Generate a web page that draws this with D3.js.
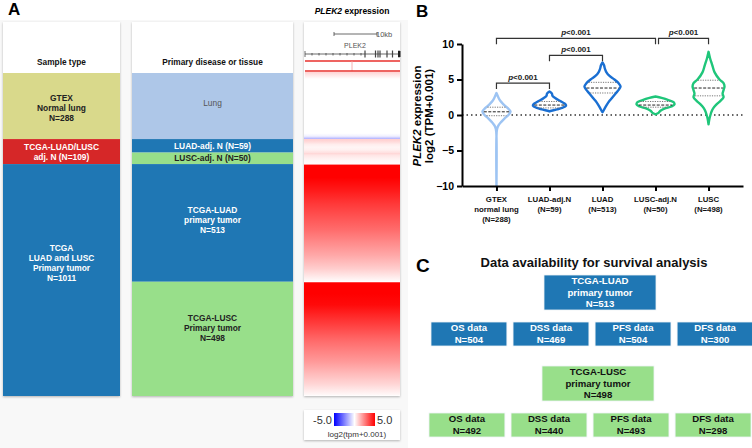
<!DOCTYPE html>
<html><head><meta charset="utf-8">
<script src="https://cdn.jsdelivr.net/npm/d3@7"></script>
<style>body{margin:0;background:#fff} svg{display:block;font-family:'Liberation Sans',Arial,Helvetica,sans-serif}</style>
</head><body><script>
// ---------------- DATA ----------------
// Panel A
const sampleTypeLabels = [["GTEX","Normal lung","N=288"],["TCGA-LUAD/LUSC","adj. N (N=109)"],["TCGA","LUAD and LUSC","Primary tumor","N=1011"]];
const sampleTypeN = [288,109,1011];
const sampleTypeColors = ["#d9d98b","#d62728","#1f77b4"];
const sampleTypeText = ["#222","#fff","#fff"];
const diseaseLabels = [["Lung"],["LUAD-adj. N (N=59)"],["LUSC-adj. N (N=50)"],["TCGA-LUAD","primary tumor","N=513"],["TCGA-LUSC","Primary tumor","N=498"]];
const diseaseN = [288,59,50,513,498];
const diseaseColors = ["#aec7e8","#1f77b4","#98df8a","#1f77b4","#98df8a"];
const diseaseText = ["#555","#fff","#222","#fff","#222"];
// heatmap values (log2 tpm, sorted within each group, top to bottom)
const heatGTEX = [0.1,0.05,0,0,0,0,0,0,0,0,0,0,0,0,0,0,0,0,0,0,0,0,-0.3,-1.6];
const heatLUADadj = [1.0,0.7,0.35,0.2,0.3,0.6];
const heatLUSCadj = [0.9,0.5,0.3,0.15,0.1];
const heatLUAD = [6,5.2,4.5,3.9,3.4,2.9,2.3,1.7,1.0,0.1];
const heatLUSC = [6.5,5.5,4.8,4.2,3.6,3.0,2.5,2.0,1.4,0.8,0.1];
const geneIntronMarks = [312,319,326,333,340,347,354,361];
const geneExons = [365,375.5,378,380,387,392.5,399];

// Panel B
const groups = ["GTEX","LUAD-adj.N","LUAD","LUSC-adj.N","LUSC"];
const groupLabels = [["GTEX","normal lung","(N=288)"],["LUAD-adj.N","(N=59)"],["LUAD","(N=513)"],["LUSC-adj.N","(N=50)"],["LUSC","(N=498)"]];
const violinColors = ["#9dc4f3","#1a6fd2","#1a6fd2","#1fc67a","#1fc67a"];
const densGTEX = [[3.1,0],[2.6,0.08],[2.0,0.2],[1.5,0.37],[1.0,0.58],[0.5,0.74],[0.0,0.63],[-0.5,0.42],[-1.0,0.24],[-1.5,0.1],[-2.0,0.03],[-3,0],[-10,0]];
const densLUADadj = [[3.3,0],[3.0,0.13],[2.7,0.16],[2.4,0.3],[2.1,0.47],[1.8,0.68],[1.5,0.85],[1.3,0.87],[1.0,0.66],[0.8,0.4],[0.6,0.1],[0.5,0]];
const densLUAD = [[7.4,0],[7.0,0.08],[6.5,0.13],[6.0,0.21],[5.5,0.37],[5.0,0.63],[4.5,0.84],[4.0,0.95],[3.5,0.84],[3.0,0.68],[2.5,0.53],[2.0,0.37],[1.5,0.24],[1.0,0.13],[0.5,0.03],[0.4,0]];
const densLUSCadj = [[2.6,0],[2.4,0.32],[2.1,0.68],[1.8,0.95],[1.5,1.0],[1.2,0.84],[0.9,0.47],[0.6,0.26],[0.3,0.16],[0.1,0]];
const densLUSC = [[8.9,0],[8.0,0.08],[7.0,0.2],[6.0,0.32],[5.0,0.58],[4.5,0.79],[4.0,0.84],[3.5,0.79],[3.0,0.74],[2.5,0.79],[2.0,0.63],[1.5,0.42],[1.0,0.26],[0.5,0.16],[0,0.1],[-0.5,0.05],[-1.3,0]];
const medians = [0.45,1.4,3.8,1.4,3.8];
const q1s = [-0.1,1.0,3.1,1.1,2.7];
const q3s = [1.1,1.9,4.6,1.9,4.9];
const yTicks = [-10,-5,0,5,10];
const comparisons = [["GTEX","LUAD-adj.N",4.5],["LUAD-adj.N","LUAD",8.4],["GTEX","LUSC-adj.N",10.8],["LUSC-adj.N","LUSC",10.8]];
const pLabel = "<0.001";

// Panel C
const survivalTypes = ["OS data","DSS data","PFS data","DFS data"];
const luadSurvN = [504,469,504,300];
const luscSurvN = [492,440,493,298];
const cohortLabels = [["TCGA-LUAD","primary tumor","N=513"],["TCGA-LUSC","primary tumor","N=498"]];

// ---------------- DRAW ----------------
const svg = d3.select("body").append("svg").attr("width",752).attr("height",448);
const defs = svg.append("defs");
const sh = defs.append("filter").attr("id","sh").attr("x","-10%").attr("y","-10%").attr("width","120%").attr("height","120%");
sh.append("feDropShadow").attr("dx",0).attr("dy",1).attr("stdDeviation",1.2).attr("flood-color","#000").attr("flood-opacity",0.28);

function mtext(g, lines, x, yc, lh, size, color, weight){
  const t = g.append("text").attr("x",x).attr("text-anchor","middle").attr("font-size",size)
    .attr("font-weight",weight||"bold").attr("fill",color);
  const n = lines.length;
  lines.forEach((l,i)=>{
    t.append("tspan").attr("x",x).attr("y", yc + (i-(n-1)/2)*lh + size*0.35).text(l);
  });
  return t;
}

// ---- Panel A ----
svg.append("rect").attr("x",0).attr("y",20).attr("width",408).attr("height",428).attr("fill","#f8f8f8");
svg.append("text").attr("x",8).attr("y",15).attr("font-size",17).attr("font-weight","bold").text("A");
const total = d3.sum(sampleTypeN);
const yA = d3.scaleLinear().domain([0,total]).range([73,396]);
const cols = [{x:3,w:117},{x:132,w:161},{x:304,w:96}];
cols.forEach(c=>{
  svg.append("rect").attr("x",c.x).attr("y",22).attr("width",c.w).attr("height",374).attr("fill","#fff").attr("filter","url(#sh)");
});
mtext(svg,["Sample type"],cols[0].x+cols[0].w/2,62,10,8.3,"#111");
mtext(svg,["Primary disease or tissue"],cols[1].x+cols[1].w/2,62,10,8.3,"#111");

// label vertical shifts (layout), relative to the segment centre
const labelShiftCol1 = [2,0,-17];
const labelShiftCol2 = [-3,0,0,-3,-11];
function drawSegments(ns, colors, labels, textColors, col, weightFn, shifts){
  let cum = 0;
  ns.forEach((n,i)=>{
    const y0 = yA(cum), y1 = yA(cum+n);
    svg.append("rect").attr("x",col.x).attr("y",y0).attr("width",col.w).attr("height",y1-y0).attr("fill",colors[i]);
    mtext(svg, labels[i], col.x+col.w/2, (y0+y1)/2 + shifts[i], 10, 8.4, textColors[i], weightFn(i));
    cum += n;
  });
}
drawSegments(sampleTypeN, sampleTypeColors, sampleTypeLabels, sampleTypeText, cols[0], ()=> "bold", labelShiftCol1);
drawSegments(diseaseN, diseaseColors, diseaseLabels, diseaseText, cols[1], i=> i===0?"normal":"bold", labelShiftCol2);

// heatmap column
const heatColor = d3.scaleLinear().domain([-5,0,5]).range(["#0000ff","#ffffff","#ff0000"]).clamp(true);
const heatSets = [heatGTEX, heatLUADadj, heatLUSCadj, heatLUAD, heatLUSC];
{
  let cum = 0;
  heatSets.forEach((vals,i)=>{
    const y0 = yA(cum), y1 = yA(cum+diseaseN[i]);
    const gid = "hg"+i;
    const gr = defs.append("linearGradient").attr("id",gid).attr("x1",0).attr("y1",0).attr("x2",0).attr("y2",1);
    vals.forEach((v,k)=> gr.append("stop").attr("offset", k/(vals.length-1)).attr("stop-color", heatColor(v)));
    const gap = diseaseN[i] > 400 ? 1 : 0;
    svg.append("rect").attr("x",cols[2].x).attr("y",y0+gap*0.5).attr("width",cols[2].w).attr("height",y1-y0-gap).attr("fill",`url(#${gid})`);
    cum += diseaseN[i];
  });
}
// title over heatmap
{
  const t = svg.append("text").attr("x",cols[2].x+cols[2].w/2).attr("y",14).attr("text-anchor","middle").attr("font-size",8.5).attr("font-weight","bold");
  t.append("tspan").attr("font-style","italic").text("PLEK2");
  t.append("tspan").text(" expression");
}
// gene track
{
  const g = svg.append("g").attr("stroke","#444").attr("stroke-width",0.8);
  g.append("line").attr("x1",334).attr("x2",377).attr("y1",34).attr("y2",34);
  g.append("line").attr("x1",334).attr("x2",334).attr("y1",32).attr("y2",36);
  g.append("line").attr("x1",377).attr("x2",377).attr("y1",32).attr("y2",36);
  svg.append("text").attr("x",376).attr("y",37).attr("font-size",7.5).attr("fill","#555").text("10kb");
  svg.append("text").attr("x",355).attr("y",48).attr("text-anchor","middle").attr("font-size",7).attr("fill","#555").text("PLEK2");
  g.append("line").attr("x1",305).attr("x2",400).attr("y1",54).attr("y2",54);
  g.append("line").attr("x1",305).attr("x2",305).attr("y1",51).attr("y2",57);
  geneIntronMarks.forEach(x=> g.append("line").attr("x1",x).attr("x2",x).attr("y1",53).attr("y2",55.5));
  geneExons.forEach(x=> g.append("line").attr("x1",x).attr("x2",x).attr("y1",50.5).attr("y2",57.5).attr("stroke-width",1.2));
  svg.append("rect").attr("x",398).attr("y",51).attr("width",2.5).attr("height",6).attr("fill","#222");
  svg.append("line").attr("x1",305).attr("x2",400).attr("y1",61).attr("y2",61).attr("stroke","#e8302c").attr("stroke-width",1.3);
  svg.append("line").attr("x1",352).attr("x2",352).attr("y1",61).attr("y2",71).attr("stroke","#f4a0a0").attr("stroke-width",0.8);
  svg.append("line").attr("x1",305).attr("x2",400).attr("y1",71).attr("y2",71).attr("stroke","#e8302c").attr("stroke-width",1.3);
  const pg = defs.append("linearGradient").attr("id","pink").attr("x1",0).attr("y1",0).attr("x2",0).attr("y2",1);
  pg.append("stop").attr("offset",0).attr("stop-color","#ffd4d4");
  pg.append("stop").attr("offset",1).attr("stop-color","#ffffff");
  svg.append("rect").attr("x",305).attr("y",72).attr("width",95).attr("height",7).attr("fill","url(#pink)");
}
// legend
{
  svg.append("rect").attr("x",304).attr("y",410).attr("width",96).attr("height",30).attr("fill","#fff").attr("filter","url(#sh)");
  const lg = defs.append("linearGradient").attr("id","lg");
  lg.append("stop").attr("offset",0).attr("stop-color",heatColor(-5));
  lg.append("stop").attr("offset",0.5).attr("stop-color",heatColor(0));
  lg.append("stop").attr("offset",1).attr("stop-color",heatColor(5));
  svg.append("rect").attr("x",334).attr("y",413).attr("width",41).attr("height",13).attr("fill","url(#lg)");
  svg.append("text").attr("x",332).attr("y",424).attr("text-anchor","end").attr("font-size",11).attr("fill","#333").text("-5.0");
  svg.append("text").attr("x",377).attr("y",424).attr("font-size",11).attr("fill","#333").text("5.0");
  svg.append("text").attr("x",357).attr("y",437).attr("text-anchor","middle").attr("font-size",8).attr("fill","#333").text("log2(tpm+0.001)");
}

// ---- Panel B ----
svg.append("text").attr("x",416).attr("y",17).attr("font-size",17).attr("font-weight","bold").text("B");
const y = d3.scaleLinear().domain([-10,10]).range([186,44]);
const x = d3.scalePoint().domain(groups).range([462,743]).padding(0.65);
const w = d3.scaleLinear().domain([0,1]).range([0,19]);
const dens = [densGTEX, densLUADadj, densLUAD, densLUSCadj, densLUSC];

// zero line
svg.append("line").attr("x1",462).attr("x2",743).attr("y1",y(0)).attr("y2",y(0))
  .attr("stroke","#333").attr("stroke-width",1.4).attr("stroke-dasharray","1.5,3");

function densAt(d, v){
  for (let i=0;i<d.length-1;i++){
    const a=d[i], b=d[i+1];
    if ((v<=a[0] && v>=b[0])) { const t=(a[0]-v)/(a[0]-b[0]); return a[1]+(b[1]-a[1])*t; }
  }
  return 0;
}
groups.forEach((gname,i)=>{
  const cx = x(gname);
  const area = d3.area().curve(d3.curveCatmullRom)
    .y(d=>y(d[0])).x0(d=>cx-w(d[1])).x1(d=>cx+w(d[1]));
  svg.append("path").attr("d",area(dens[i])).attr("fill","#fff").attr("stroke",violinColors[i]).attr("stroke-width",2.4).attr("stroke-linejoin","round");
  [[q1s[i],"#777","1.2,1.2"],[q3s[i],"#777","1.2,1.2"],[medians[i],"#222","3,1.5"]].forEach(([v,c,da])=>{
    const hw = Math.max(0,w(densAt(dens[i],v))-1.2);
    svg.append("line").attr("x1",cx-hw).attr("x2",cx+hw).attr("y1",y(v)).attr("y2",y(v))
      .attr("stroke",c).attr("stroke-width",1).attr("stroke-dasharray",da);
  });
});

// axes
const yAxis = svg.append("g").attr("transform","translate(462,0)")
  .call(d3.axisLeft(y).tickValues(yTicks).tickSize(5).tickSizeOuter(0));
yAxis.selectAll("path,line").attr("stroke","#000").attr("stroke-width",2);
yAxis.selectAll("text").attr("font-size",10.5).attr("font-weight","bold").attr("fill","#000").attr("font-family","'Liberation Sans',Arial,sans-serif");
const xAxis = svg.append("g").attr("transform",`translate(0,${y(-10)})`)
  .call(d3.axisBottom(x).tickSize(5).tickSizeOuter(0).tickFormat(""));
xAxis.selectAll("path,line").attr("stroke","#000").attr("stroke-width",2);
groupLabels.forEach((lines,i)=>{
  mtext(svg, lines, x(groups[i]), 199 + (lines.length-1)*5, 10, 7.8, "#111");
});
// y label
{
  const t1 = svg.append("text").attr("transform",`translate(421,116) rotate(-90)`).attr("text-anchor","middle").attr("font-size",11.5).attr("font-weight","bold");
  t1.append("tspan").attr("font-style","italic").text("PLEK2");
  t1.append("tspan").text(" expression");
  svg.append("text").attr("transform",`translate(433,116) rotate(-90)`).attr("text-anchor","middle").attr("font-size",11.5).attr("font-weight","bold").text("log2 (TPM+0.001)");
}
// brackets
comparisons.forEach(([a,b,lv],k)=>{
  let xa = x(a), xb = x(b);
  // small gap when a bracket begins where another at the same level ends
  if (comparisons.some(([c,d,l2],j)=> j!==k && l2===lv && d===a)) xa += 3;
  const yy = y(lv);
  svg.append("path").attr("d",`M${xa},${yy+6}V${yy}H${xb}V${yy+6}`).attr("fill","none").attr("stroke","#333").attr("stroke-width",1.2);
  const t = svg.append("text").attr("x",(xa+xb)/2).attr("y",yy-3).attr("text-anchor","middle").attr("font-size",8).attr("font-weight","bold").attr("fill","#222");
  t.append("tspan").attr("font-style","italic").text("p");
  t.append("tspan").text(pLabel);
});

// ---- Panel C ----
svg.append("text").attr("x",416).attr("y",272).attr("font-size",19).attr("font-weight","bold").text("C");
svg.append("text").attr("x",594).attr("y",267).attr("text-anchor","middle").attr("font-size",13).attr("font-weight","bold").attr("fill","#111").text("Data availability for survival analysis");
const cohorts = [
  {label:cohortLabels[0], ns:luadSurvN, fill:"#1f77b4", txt:"#fff", bx:544, by:275, sx:[431,753], sy:322},
  {label:cohortLabels[1], ns:luscSurvN, fill:"#98df8a", txt:"#111", bx:542, by:366, sx:[429,751], sy:413}
];
cohorts.forEach(c=>{
  svg.append("rect").attr("x",c.bx).attr("y",c.by).attr("width",112).attr("height",35).attr("fill",c.fill).attr("stroke","#eef2f6").attr("stroke-width",0.8);
  mtext(svg, c.label, c.bx+56, c.by+17.5, 11.5, 9.6, c.txt);
  const sx = d3.scaleBand().domain(survivalTypes).range(c.sx).paddingInner(0.075);
  survivalTypes.forEach((s,i)=>{
    svg.append("rect").attr("x",sx(s)).attr("y",c.sy).attr("width",sx.bandwidth()).attr("height",24).attr("fill",c.fill).attr("stroke","#eef2f6").attr("stroke-width",0.8);
    mtext(svg,[s,"N="+c.ns[i]], sx(s)+sx.bandwidth()/2, c.sy+12, 12, 9.6, c.txt);
  });
});
</script></body></html>
